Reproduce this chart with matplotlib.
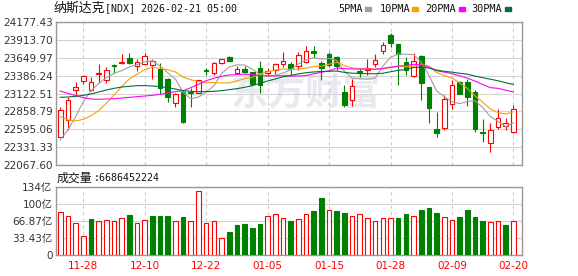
import numpy as np
import matplotlib
matplotlib.use("Agg")
from matplotlib import pyplot as plt
from matplotlib.patches import Rectangle

plt.rcParams['font.family'] = ['DejaVu Sans', 'Noto Sans CJK SC']

dates = ['11-24', '11-25', '11-26', '11-28',
         '12-01', '12-02', '12-03', '12-04', '12-05', '12-08', '12-09', '12-10', '12-11', '12-12',
         '12-15', '12-16', '12-17', '12-18', '12-19', '12-22', '12-23', '12-24', '12-26',
         '12-29', '12-30', '12-31', '01-02',
         '01-05', '01-06', '01-07', '01-08', '01-09', '01-12', '01-13', '01-14', '01-15', '01-16',
         '01-20', '01-21', '01-22', '01-23', '01-26', '01-27', '01-28', '01-29', '01-30',
         '02-02', '02-03', '02-04', '02-05', '02-06', '02-09', '02-10', '02-11', '02-12', '02-13',
         '02-17', '02-18', '02-19', '02-20']

opens = [22485.6, 22731.5, 23179.0, 23311.8, 23179.0, 23405.3, 23321.7, 23547.9, 23572.5, 23641.3,
         23533.1, 23557.7, 23543.0, 23483.9, 23331.5, 22987.2, 23149.5, 23139.7, 23134.8, 23469.2,
         23429.9, 23577.4, 23661.0, 23429.9, 23483.9, 23444.6, 23493.8, 23420.0, 23469.2, 23562.6,
         23562.6, 23528.2, 23592.1, 23749.5, 23577.4, 23700.3, 23656.1, 23149.5, 23026.6, 23449.5,
         23469.2, 23552.8, 23749.5, 23990.5, 23852.8, 23582.3, 23385.6, 23675.8, 23213.5, 22598.7,
         22618.4, 22962.6, 23287.2, 23292.2, 23149.5, 22554.5, 22397.1, 22633.1, 22647.9, 22549.5]
highs = [22918.4, 23075.8, 23292.2, 23390.5, 23370.8, 23552.8, 23513.5, 23552.8, 23700.3, 23715.1,
         23631.5, 23724.9, 23626.6, 23567.6, 23356.1, 23134.8, 23174.1, 23198.7, 23316.7, 23493.8,
         23592.1, 23626.6, 23680.7, 23528.2, 23528.2, 23444.6, 23602.0, 23493.8, 23577.4, 23734.8,
         23587.2, 23729.9, 23823.3, 23823.3, 23606.9, 23729.9, 23675.8, 23247.9, 23331.5, 23503.6,
         23631.5, 23705.3, 23877.4, 24010.2, 23852.8, 23665.9, 23715.1, 23690.5, 23213.5, 22844.6,
         23100.3, 23321.7, 23311.8, 23331.5, 23174.1, 22746.3, 22682.3, 22888.9, 22765.9, 22952.8]
lows = [22475.8, 22584.0, 23100.3, 23262.6, 23159.4, 23282.3, 23282.3, 23420.0, 23552.8, 23557.7,
        23459.4, 23552.8, 23331.5, 23115.1, 23002.0, 22918.4, 22692.2, 22918.4, 23124.9, 23395.4,
        23395.4, 23552.8, 23597.1, 23420.0, 23429.9, 23247.9, 23134.8, 23395.4, 23405.3, 23518.4,
        23395.4, 23469.2, 23577.4, 23641.3, 23321.7, 23518.4, 23469.2, 22928.2, 22938.1, 23361.0,
        23395.4, 23513.5, 23700.3, 23803.6, 23247.9, 23395.4, 23370.8, 23026.6, 22692.2, 22475.8,
        22584.0, 22888.9, 23115.1, 22938.1, 22559.4, 22411.8, 22254.5, 22598.7, 22584.0, 22544.6]
closes = [22879.0, 23026.6, 23218.4, 23380.7, 23292.2, 23424.9, 23469.2, 23528.2, 23587.2, 23567.6,
          23587.2, 23675.8, 23602.0, 23198.7, 23075.8, 23115.1, 22706.9, 23129.9, 23316.7, 23449.5,
          23567.6, 23626.6, 23606.9, 23479.0, 23434.8, 23257.7, 23247.9, 23449.5, 23562.6, 23602.0,
          23488.9, 23690.5, 23749.5, 23724.9, 23493.8, 23543.0, 23533.1, 22952.8, 23233.1, 23439.7,
          23503.6, 23616.7, 23838.0, 23872.5, 23705.3, 23469.2, 23602.0, 23272.5, 22913.5, 22544.6,
          23041.3, 23247.9, 23115.1, 23075.8, 22598.7, 22544.6, 22584.0, 22756.1, 22682.3, 22888.9]

ma5 = [22436.4, 22584.0, 22780.7, 23002.0, 23159.4, 23268.5, 23357.1, 23419.0, 23460.4, 23515.4,
       23547.9, 23589.2, 23604.0, 23526.2, 23427.9, 23333.5, 23139.7, 23045.3, 23068.9, 23143.6,
       23234.1, 23418.1, 23513.5, 23545.9, 23543.0, 23481.0, 23405.3, 23373.8, 23390.5, 23424.0,
       23470.2, 23558.7, 23618.7, 23651.2, 23629.5, 23640.3, 23608.9, 23449.5, 23351.2, 23340.4,
       23332.5, 23349.2, 23526.2, 23654.1, 23707.2, 23700.3, 23697.4, 23584.3, 23392.5, 23160.3,
       23074.8, 23004.0, 22972.5, 23004.9, 23015.8, 22916.4, 22783.6, 22711.8, 22633.1, 22691.2]
ma10 = [22780.7, 22731.5, 22716.7, 22741.3, 22795.4, 22869.2, 22977.4, 23100.3, 23223.3, 23337.4,
        23408.2, 23473.1, 23511.5, 23493.3, 23471.7, 23440.7, 23364.4, 23324.6, 23297.6, 23285.8,
        23283.8, 23278.9, 23279.4, 23307.4, 23343.3, 23357.6, 23411.7, 23443.6, 23468.2, 23483.5,
        23475.6, 23482.0, 23496.2, 23520.8, 23526.7, 23555.3, 23583.8, 23534.1, 23501.2, 23484.9,
        23486.4, 23479.0, 23487.9, 23502.6, 23523.8, 23516.4, 23523.3, 23555.3, 23523.3, 23433.8,
        23387.6, 23350.7, 23278.4, 23198.7, 23088.1, 22995.6, 22893.8, 22842.2, 22819.0, 22853.5]
ma20 = [23159.4, 23124.9, 23090.5, 23061.0, 23041.3, 23036.4, 23041.3, 23046.3, 23056.1, 23065.9,
        23075.8, 23085.6, 23095.4, 23110.2, 23129.9, 23149.5, 23164.3, 23208.5, 23257.7, 23311.3,
        23346.0, 23376.0, 23395.4, 23400.3, 23407.5, 23399.1, 23388.1, 23384.1, 23382.9, 23384.6,
        23379.7, 23380.4, 23387.8, 23414.1, 23435.0, 23456.4, 23497.7, 23488.9, 23484.7, 23484.2,
        23481.0, 23480.5, 23492.1, 23511.7, 23525.3, 23535.8, 23553.5, 23544.7, 23512.2, 23459.4,
        23437.0, 23414.9, 23383.1, 23350.7, 23305.9, 23256.0, 23208.5, 23198.7, 23171.2, 23143.6]
ma30 = [23065.9, 23070.8, 23080.7, 23095.4, 23115.1, 23144.6, 23174.1, 23198.7, 23218.4, 23228.2,
        23238.1, 23238.1, 23233.1, 23223.3, 23208.5, 23188.9, 23164.3, 23154.4, 23149.5, 23149.5,
        23154.4, 23164.3, 23179.0, 23193.8, 23213.5, 23238.1, 23272.5, 23306.9, 23336.4, 23368.9,
        23389.2, 23411.3, 23429.0, 23440.5, 23447.2, 23451.1, 23453.3, 23434.1, 23422.3, 23418.1,
        23415.2, 23413.3, 23421.1, 23443.6, 23464.6, 23476.4, 23506.2, 23511.0, 23497.6, 23467.4,
        23449.9, 23437.2, 23420.9, 23407.4, 23379.5, 23355.7, 23333.6, 23310.5, 23281.2, 23257.4]

# volume in 亿 (1e8)
volumes = [83.0, 75.2, 63.4, 37.9, 69.9, 65.4, 69.3, 65.4, 73.2, 77.8,
           63.4, 69.3, 75.8, 75.8, 75.8, 67.3, 73.9, 67.3, 124.2, 63.4,
           67.3, 34.0, 44.4, 58.2, 60.1, 52.9, 60.1, 75.2, 79.1, 73.2,
           66.0, 69.9, 79.8, 86.3, 111.8, 87.6, 86.3, 82.4, 75.8, 79.8,
           71.9, 66.0, 71.9, 71.9, 72.6, 80.4, 75.8, 88.3, 92.2, 82.4,
           73.9, 68.0, 74.5, 88.3, 74.5, 66.7, 64.1, 66.0, 58.2, 66.86452224]

price_ticks = [22067.60, 22331.33, 22595.06, 22858.79, 23122.51,
               23386.24, 23649.97, 23913.70, 24177.43]
vol_ticks = [0, 33.43, 66.87, 100.30, 133.72]
vol_tick_labels = ['0', '33.43亿', '66.87亿', '100亿', '134亿']

ma_series = [('5PMA', ma5, '#a0a0a0'), ('10PMA', ma10, '#f5a300'),
             ('20PMA', ma20, '#ff00ff'), ('30PMA', ma30, '#006f3c')]

RED, GREEN = '#ff0000', '#008000'
W, H = 578, 276
fig = plt.figure(figsize=(W / 100, H / 100), dpi=100)


def box(l, t, r, b):
    return [l / W, 1 - b / H, (r - l) / W, (b - t) / H]


ax = fig.add_axes(box(56, 22, 522, 165))
axv = fig.add_axes(box(56, 186.5, 522, 255))

x = np.arange(len(closes))
o, h, l, c = map(np.array, (opens, highs, lows, closes))
up = c >= o
bw = 0.6

for m, col, face in ((up, RED, 'white'), (~up, GREEN, GREEN)):
    ax.vlines(x[m], l[m], h[m], color=col, lw=0.8, zorder=3)
    ax.bar(x[m], np.abs(c - o)[m], bottom=np.minimum(o, c)[m], width=bw,
           facecolor=face, edgecolor=col, lw=0.8, zorder=3)

for name, vals, col in ma_series:
    ax.plot(x, vals, color=col, lw=0.8, zorder=4)

v = np.array(volumes)
vup = np.r_[True, c[1:] >= c[:-1]]
axv.bar(x[vup], v[vup], width=bw, facecolor='white', edgecolor=RED, lw=0.8, zorder=3)
axv.bar(x[~vup], v[~vup], width=bw, facecolor=GREEN, edgecolor=GREEN, lw=0.8, zorder=3)

tick_pos = x[3::8]
for a in (ax, axv):
    a.set_xlim(-0.55, 60.12)
    a.set_xticks(tick_pos)
    a.grid(axis='y', color='#d4d4d4', lw=0.8)
    a.grid(axis='x', color='#cccccc', lw=0.8, ls=(0, (3, 3)))
    a.tick_params(length=0, pad=2.5, labelsize=7.5, labelcolor='#333333')
    for s in a.spines.values():
        s.set_color('#999999')
        s.set_linewidth(1)

ax.set_ylim(price_ticks[0], price_ticks[-1])
ax.set_yticks(price_ticks)
ax.set_yticklabels([f'{t:.2f}' for t in price_ticks])
ax.tick_params(axis='x', labelbottom=False)

axv.set_ylim(0, vol_ticks[-1])
axv.set_yticks(vol_ticks)
axv.set_yticklabels(vol_tick_labels)
axv.set_xticklabels([dates[i] for i in tick_pos])
axv.tick_params(axis='x', labelcolor=RED, pad=4)

ax.text(0.536, 0.5, '东方财富', transform=ax.transAxes, ha='center', va='center',
        fontsize=27, fontweight='bold', color='#e8e8ee', zorder=1,
        fontfamily='Noto Sans CJK SC')

# title and volume caption
fig.text(53 / W, 1 - 8.5 / H, '纳斯达克', fontfamily='Noto Sans CJK SC',
         fontsize=9.3, va='center', color='#111111')
fig.text(105 / W, 1 - 8.5 / H, '[NDX] 2026-02-21 05:00', fontfamily='DejaVu Sans Mono',
         fontsize=7.2, va='center', color='#111111')
fig.text(57 / W, 1 - 178 / H, '成交量', fontfamily='Noto Sans CJK SC',
         fontsize=8.6, va='center', color='#111111')
fig.text(94 / W, 1 - 178 / H, ':' + str(int(round(volumes[-1] * 1e8))),
         fontfamily='DejaVu Sans Mono', fontsize=7.2, va='center', color='#111111')

# legend
leg_text_x = [338, 380, 425, 471]
leg_mark_x = [365, 412, 459, 505]
for (name, vals, col), tx, mx in zip(ma_series, leg_text_x, leg_mark_x):
    fig.text(tx / W, 1 - 9 / H, name, fontfamily='DejaVu Sans Mono', fontsize=7.4,
             va='center', color='#111111')
    fig.add_artist(Rectangle((mx / W, 1 - 10.5 / H), 6 / W, 3 / H,
                             transform=fig.transFigure, color=col))

fig.savefig('out.png', dpi=100)
